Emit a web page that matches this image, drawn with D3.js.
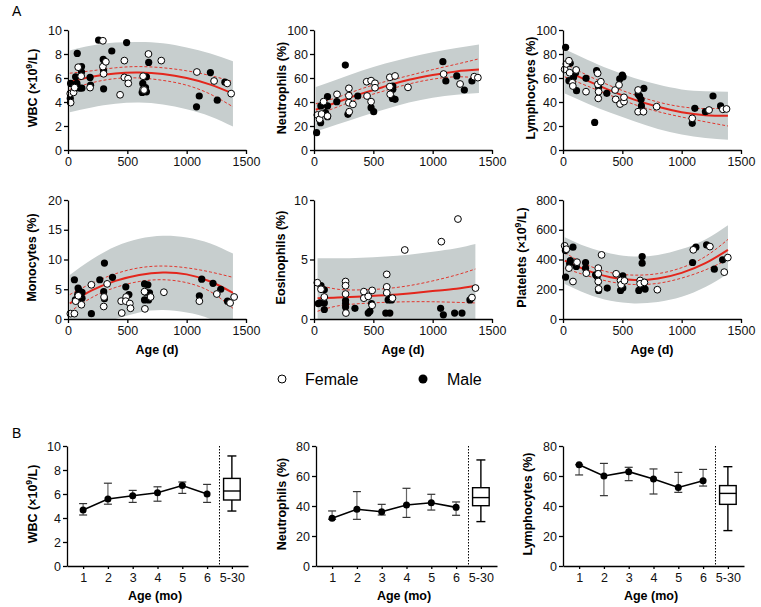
<!DOCTYPE html>
<html><head><meta charset="utf-8">
<script src="https://cdn.jsdelivr.net/npm/d3@7"></script>
<style>body{margin:0;background:#fff} svg{font-family:"Liberation Sans",Arial,sans-serif}</style>
</head><body><svg id="c" width="761" height="607"></svg>
<script>
// ---------- DATA ----------
const fitDays = [15, 200, 400, 600, 800, 1000, 1200, 1390];
const eosDays = [30, 200, 400, 600, 800, 1000, 1200, 1360];
const dayTicks = [0, 500, 1000, 1500];

const wbcFit  = [5.7, 6.1, 6.38, 6.45, 6.33, 6.0, 5.45, 4.7];
const wbcCiHi = [6.4, 6.6, 6.85, 6.95, 6.85, 6.6, 6.2, 5.7];
const wbcCiLo = [5.05, 5.6, 5.95, 6.0, 5.8, 5.4, 4.65, 3.6];
const wbcPiHi = [8.3, 8.7, 8.95, 9.0, 8.9, 8.55, 8.05, 7.4];
const wbcPiLo = [3.15, 3.55, 3.85, 3.95, 3.8, 3.4, 2.8, 1.95];
const wbcFemale = [[19,4.7],[22,3.95],[47,4.8],[56,5.2],[86,6.9],[111,6.15],[186,5.2],[294,9.1],[294,6.95],[300,6.35],[319,7.35],[439,4.6],[475,7.45],[475,6.05],[506,5.95],[508,5.55],[633,6.15],[633,5.05],[641,5.0],[678,8.0],[786,7.45],[1086,6.5],[1231,5.75],[1342,5.55],[1375,4.7]];
const wbcMale = [[19,4.3],[22,5.55],[64,6.1],[75,5.55],[78,8.05],[97,5.15],[117,5.15],[114,6.95],[114,6.5],[186,6.05],[190,5.4],[258,9.15],[297,7.55],[300,6.6],[300,5.1],[369,8.25],[494,8.95],[625,4.8],[630,5.55],[653,5.2],[661,4.85],[661,6.1],[680,7.3],[1083,3.6],[1106,4.5],[1200,6.45],[1258,4.15],[1322,5.65]];

const neuFit  = [33.5, 40, 47, 53, 58.5, 62.5, 65.5, 67];
const neuCiHi = [38.5, 44, 51, 57, 62, 67, 71.5, 76];
const neuCiLo = [29, 36, 43.5, 49.5, 55, 59, 61, 60];
const neuPiHi = [52.5, 59, 66, 72, 77, 81.5, 85, 88];
const neuPiLo = [15.5, 21.5, 28, 34, 39.5, 43.5, 46, 47.5];
const neuFemale = [[28,29.2],[47,25.6],[64,30],[81,40.3],[114,28.3],[194,46.4],[294,51.4],[294,39.4],[294,45.3],[297,31.9],[328,38],[444,56.9],[447,45],[481,57.8],[481,40.3],[514,55.6],[514,51.9],[639,60.6],[639,52.8],[642,46.4],[683,61.7],[792,52.2],[1092,63.3],[1231,55],[1350,61.1],[1381,60.3]];
const neuMale = [[22,14.4],[56,22.8],[58,36.7],[97,31.1],[114,36.7],[114,44.4],[114,27.8],[192,40.3],[264,70.8],[286,29.7],[369,45],[481,35.3],[503,31.9],[661,43],[683,42.2],[664,50.6],[664,53.3],[1086,73.6],[1111,57.5],[1203,61.7],[1267,50],[1331,57.5]];

const lymFit  = [66.5, 58, 49.5, 42, 36, 31.5, 29, 28.5];
const lymCiHi = [72, 62.5, 53.5, 46, 40, 36, 34.5, 35];
const lymCiLo = [61, 53.5, 45.5, 38, 32, 27.5, 23.5, 20];
const lymPiHi = [84, 75.5, 67, 60, 54.5, 50.5, 49, 48.5];
const lymPiLo = [47, 39, 31, 24, 17.5, 13, 10, 8.5];
const lymFemale = [[14,67.2],[28,71.7],[50,74.4],[56,64.4],[78,56.1],[83,53.3],[111,66.7],[194,48.6],[292,63.9],[294,54.7],[297,43],[300,48.6],[319,56.9],[439,50],[472,54.2],[444,42.2],[481,38.3],[514,40.3],[514,43.9],[633,50],[633,31.9],[678,31.9],[789,36.1],[1089,26.4],[1231,33.3],[1347,33.9],[1378,34.2]];
const lymMale = [[22,85.6],[61,72.2],[50,57.8],[89,60.6],[106,64.4],[114,49.4],[194,59.7],[267,23],[283,66.1],[300,52.2],[369,47.2],[478,59.2],[500,62.5],[506,61],[633,46.4],[645,45],[658,42],[661,36.7],[681,51.4],[1089,22.2],[1111,34.7],[1200,31.9],[1264,45],[1328,36.7]];

const monFit  = [2.6, 4.8, 6.4, 7.4, 7.8, 7.5, 6.3, 4.4];
const monCiHi = [4.1, 6.0, 7.6, 8.6, 8.9, 8.6, 7.9, 7.0];
const monCiLo = [1.2, 3.6, 5.3, 6.3, 6.6, 6.1, 4.6, 1.8];
const monPiHi = [7.4, 10.0, 12.2, 13.5, 14.0, 13.7, 12.7, 11.0];
const monPiLo = [-3.3, -1.3, 0.0, 1.1, 1.5, 1.1, 0.0, -2.5];
const monFemale = [[20,0.9],[54,0.9],[65,3.0],[87,3.9],[113,2.4],[197,5.75],[304,3.7],[301,2.1],[330,5.9],[448,3.0],[453,1.0],[490,3.7],[487,3.0],[521,2.6],[527,1.8],[645,4.6],[648,1.7],[696,3.7],[808,4.5],[1107,3.0],[1254,4.2],[1366,2.7],[1400,3.7]];
const monMale = [[54,6.6],[85,5.2],[93,4.8],[82,4.1],[118,4.5],[118,3.5],[62,3.2],[197,0.9],[268,6.6],[301,4.6],[307,9.4],[307,3.4],[375,7.0],[487,5.4],[513,4.1],[645,5.9],[673,5.75],[656,4.5],[687,4.4],[645,3.2],[679,3.2],[1107,3.9],[1127,6.7],[1222,6.0],[1287,5.0],[1344,3.0]];

const eosFit  = [1.75, 1.8, 1.9, 2.0, 2.15, 2.35, 2.55, 2.8];
const eosCiHi = [2.9, 2.5, 2.45, 2.55, 2.8, 3.2, 3.7, 4.2];
const eosCiLo = [0.65, 1.1, 1.3, 1.4, 1.45, 1.45, 1.4, 1.35];
const eosPiHi = [5.1, 5.1, 5.15, 5.25, 5.4, 5.65, 5.95, 6.3];
const eosPiLo = [-1.6, -1.5, -1.4, -1.3, -1.2, -1.0, -0.9, -0.7];
const eosFemale = [[28,3.05],[59,2.5],[87,1.85],[266,3.15],[266,2.8],[266,2.1],[269,0.5],[420,2.3],[420,1.75],[457,1.9],[490,2.4],[490,1.15],[613,3.75],[613,2.7],[613,2.2],[661,1.75],[765,5.8],[1073,6.5],[1213,8.4],[1331,1.8],[1361,2.6]];
const eosMale = [[36,1.3],[59,2.8],[50,1.35],[87,2.45],[87,1.35],[87,0.8],[266,1.55],[266,1.3],[266,1.0],[345,0.9],[457,0.5],[471,0.65],[485,1.3],[605,0.5],[639,0.5],[625,1.6],[639,1.75],[653,1.6],[1067,0.9],[1090,0.35],[1185,0.5],[1247,0.5],[1314,1.6]];

const pltFit  = [392, 327, 280, 262, 272, 310, 375, 465];
const pltCiHi = [445, 365, 312, 295, 305, 345, 420, 535];
const pltCiLo = [340, 292, 250, 232, 240, 275, 330, 400];
const pltPiHi = [550, 485, 440, 420, 430, 470, 535, 630];
const pltPiLo = [235, 170, 122, 105, 115, 150, 215, 305];
const pltFemale = [[14,492],[28,469],[50,342],[84,252],[118,382],[196,308],[297,342],[297,252],[300,203],[297,304],[325,431],[448,304],[485,259],[490,230],[518,257],[650,259],[650,237],[686,246],[795,197],[1098,465],[1238,487],[1359,315],[1389,413]];
const pltMale = [[20,460],[22,282],[84,483],[62,393],[56,371],[112,353],[190,380],[190,342],[275,297],[288,286],[300,192],[373,208],[485,192],[504,290],[504,208],[639,192],[667,420],[667,375],[678,219],[692,201],[1092,380],[1120,483],[1210,498],[1275,335],[1345,398]];

// Panel B
const monthLabels = ["1", "2", "3", "4", "5", "6", "5-30"];
const wbcMonthMean = [4.67, 5.58, 5.86, 6.1, 6.7, 6.0];
const wbcMonthLo   = [4.25, 5.15, 5.3, 5.4, 6.05, 5.3];
const wbcMonthHi   = [5.2, 6.9, 6.3, 6.6, 7.0, 6.8];
const wbcBox = [4.58, 5.5, 6.25, 7.3, 9.17];
const neuMonthMean = [31.8, 37.8, 36.2, 40.7, 42.2, 39.1];
const neuMonthLo   = [31.1, 31.1, 34, 32.4, 37.3, 33.8];
const neuMonthHi   = [36.7, 49.6, 41.1, 51.8, 47.8, 42.7];
const neuBox = [29.6, 40.2, 45.6, 52.2, 70.7];
const lymMonthMean = [67.5, 60, 62.9, 58, 52.4, 56.9];
const lymMonthLo   = [60.7, 46.9, 56.9, 48, 49.1, 53.3];
const lymMonthHi   = [67.5, 68.4, 65.8, 64.7, 62.4, 64.4];
const lymBox = [23.6, 41.1, 48.4, 53.6, 66.2];

// ---------- DRAW ----------
const svg = d3.select("#c");
const RED = "#e3261c", GREY = "#c7cece";
const FONT = '"Liberation Sans",Arial,sans-serif';
const colX = [68, 314, 563];
const W = 178;

function yTitle(cx, cy, parts) {
  const t = svg.append("text")
    .attr("x", 0).attr("y", 0)
    .attr("text-anchor", "start").attr("font-weight", "bold").attr("font-size", 12.5)
    .attr("font-family", FONT);
  parts.forEach(p => {
    const s = t.append("tspan").text(p.t);
    if (p.sup) s.attr("font-size", 8.5).attr("dy", -5);
    if (p.after) s.attr("dy", 5);
  });
  const bb = t.node().getBBox();
  const mx = bb.x + bb.width / 2, my = bb.y + bb.height / 2 + 1;
  t.attr("transform", `translate(${cx},${cy}) rotate(-90) translate(${-mx},${-my})`);
}

function styleAxis(a) {
  a.attr("font-family", FONT).attr("font-size", 12.5);
  a.select(".domain").attr("stroke", "#000").attr("stroke-width", 1.3);
  a.selectAll(".tick line").attr("stroke", "#000").attr("stroke-width", 1.3);
  a.selectAll(".tick text").attr("fill", "#111");
}

let clipId = 0;
function scatterPanel(c) {
  const x = d3.scaleLinear([0, 1500], [c.x0, c.x0 + W]);
  const y = d3.scaleLinear([0, c.ymax], [c.bottom, c.top]);
  const g = svg.append("g");
  const id = "clip" + (clipId++);
  svg.append("clipPath").attr("id", id).append("rect")
    .attr("x", c.x0).attr("y", c.top - 20).attr("width", W + 10).attr("height", c.bottom - c.top + 20);
  const rows = c.days.map((d, i) => ({ d, fit: c.fit[i], cl: c.ciLo[i], ch: c.ciHi[i], pl: c.piLo[i], ph: c.piHi[i] }));
  const curve = d3.curveNatural;
  g.append("path").datum(rows).attr("clip-path", `url(#${id})`)
    .attr("d", d3.area().x(r => x(r.d)).y0(r => y(r.pl)).y1(r => y(r.ph)).curve(curve))
    .attr("fill", GREY);
  ["cl", "ch"].forEach(k => {
    g.append("path").datum(rows)
      .attr("d", d3.line().x(r => x(r.d)).y(r => y(r[k])).curve(curve))
      .attr("fill", "none").attr("stroke", RED).attr("stroke-width", 0.9).attr("stroke-dasharray", "3,2");
  });
  g.append("path").datum(rows)
    .attr("d", d3.line().x(r => x(r.d)).y(r => y(r.fit)).curve(curve))
    .attr("fill", "none").attr("stroke", RED).attr("stroke-width", 2);
  g.selectAll(".m").data(c.male).join("circle")
    .attr("cx", p => x(p[0])).attr("cy", p => y(p[1])).attr("r", 3.6).attr("fill", "#000");
  g.selectAll(".f").data(c.female).join("circle")
    .attr("cx", p => x(p[0])).attr("cy", p => y(p[1])).attr("r", 3.4)
    .attr("fill", "#fff").attr("stroke", "#000").attr("stroke-width", 1);
  const ax = g.append("g").attr("transform", `translate(0,${c.bottom})`)
    .call(d3.axisBottom(x).tickValues(dayTicks).tickFormat(d3.format("d")).tickSize(4).tickSizeOuter(0).tickPadding(3));
  styleAxis(ax);
  const ay = g.append("g").attr("transform", `translate(${c.x0},0)`)
    .call(d3.axisLeft(y).tickValues(c.yticks).tickFormat(d3.format("d")).tickSize(4).tickSizeOuter(0).tickPadding(2));
  styleAxis(ay);
  yTitle(c.x0 - c.tOff, (c.top + c.bottom) / 2 - 2, c.title);
  if (c.xTitle) {
    svg.append("text").attr("x", c.x0 + W / 2).attr("y", c.bottom + 35).attr("font-family", FONT)
      .attr("text-anchor", "middle").attr("font-weight", "bold").attr("font-size", 12.5).text("Age (d)");
  }
}

const sup9 = (pre, post) => [{ t: pre }, { t: "9", sup: true }, { t: post, after: true }];

scatterPanel({ x0: colX[0], top: 30, bottom: 150, ymax: 10, yticks: [0,2,4,6,8,10], days: fitDays,
  fit: wbcFit, ciLo: wbcCiLo, ciHi: wbcCiHi, piLo: wbcPiLo, piHi: wbcPiHi, female: wbcFemale, male: wbcMale,
  title: sup9("WBC (×10", "/L)"), tOff: 35 });
scatterPanel({ x0: colX[1], top: 30, bottom: 150, ymax: 100, yticks: [0,20,40,60,80,100], days: fitDays,
  fit: neuFit, ciLo: neuCiLo, ciHi: neuCiHi, piLo: neuPiLo, piHi: neuPiHi, female: neuFemale, male: neuMale,
  title: [{ t: "Neutrophils (%)" }], tOff: 31 });
scatterPanel({ x0: colX[2], top: 30, bottom: 150, ymax: 100, yticks: [0,20,40,60,80,100], days: fitDays,
  fit: lymFit, ciLo: lymCiLo, ciHi: lymCiHi, piLo: lymPiLo, piHi: lymPiHi, female: lymFemale, male: lymMale,
  title: [{ t: "Lymphocytes (%)" }], tOff: 31 });
scatterPanel({ x0: colX[0], top: 200, bottom: 319, ymax: 20, yticks: [0,5,10,15,20], days: fitDays,
  fit: monFit, ciLo: monCiLo, ciHi: monCiHi, piLo: monPiLo, piHi: monPiHi, female: monFemale, male: monMale,
  title: [{ t: "Monocytes (%)" }], tOff: 35, xTitle: true });
scatterPanel({ x0: colX[1], top: 200, bottom: 319, ymax: 10, yticks: [0,5,10], days: eosDays,
  fit: eosFit, ciLo: eosCiLo, ciHi: eosCiHi, piLo: eosPiLo, piHi: eosPiHi, female: eosFemale, male: eosMale,
  title: [{ t: "Eosinophils (%)" }], tOff: 32, xTitle: true });
scatterPanel({ x0: colX[2], top: 200, bottom: 319, ymax: 800, yticks: [0,200,400,600,800], days: fitDays,
  fit: pltFit, ciLo: pltCiLo, ciHi: pltCiHi, piLo: pltPiLo, piHi: pltPiHi, female: pltFemale, male: pltMale,
  title: sup9("Platelets (×10", "/L)"), tOff: 41, xTitle: true });

// Legend
const lg = svg.append("g").attr("font-family", FONT);
lg.append("circle").attr("cx", 282).attr("cy", 379).attr("r", 4).attr("fill", "#fff").attr("stroke", "#000").attr("stroke-width", 1);
lg.append("text").attr("x", 305).attr("y", 385).attr("font-size", 16).text("Female");
lg.append("circle").attr("cx", 423).attr("cy", 379).attr("r", 4.5).attr("fill", "#000");
lg.append("text").attr("x", 447).attr("y", 385).attr("font-size", 16).text("Male");

// Panel letters
svg.append("text").attr("x", 12).attr("y", 16).attr("font-size", 14).attr("font-family", FONT).text("A");
svg.append("text").attr("x", 12).attr("y", 438).attr("font-size", 14).attr("font-family", FONT).text("B");

// Panel B
function monthPanel(c) {
  const x = d3.scaleLinear([0.35, 7.65], [c.x0, c.x0 + 181]);
  const y = d3.scaleLinear([0, c.ymax], [566, 446]);
  const g = svg.append("g");
  const idx = c.mean.map((m, i) => i + 1);
  g.append("line").attr("x1", x(6.5)).attr("x2", x(6.5)).attr("y1", 446).attr("y2", 566)
    .attr("stroke", "#000").attr("stroke-width", 1).attr("stroke-dasharray", "1.5,1.5");
  idx.forEach((k, i) => {
    g.append("line").attr("x1", x(k)).attr("x2", x(k)).attr("y1", y(c.lo[i])).attr("y2", y(c.hi[i]))
      .attr("stroke", "#666").attr("stroke-width", 1.2);
    [c.lo[i], c.hi[i]].forEach(v => g.append("line").attr("x1", x(k) - 4).attr("x2", x(k) + 4)
      .attr("y1", y(v)).attr("y2", y(v)).attr("stroke", "#333").attr("stroke-width", 1.2));
  });
  g.append("path").datum(idx)
    .attr("d", d3.line().x(k => x(k)).y((k, i) => y(c.mean[i])))
    .attr("fill", "none").attr("stroke", "#000").attr("stroke-width", 1.6);
  g.selectAll(".p").data(idx).join("circle").attr("cx", k => x(k)).attr("cy", (k, i) => y(c.mean[i]))
    .attr("r", 3.5).attr("fill", "#000");
  const bx = x(7), b = c.box;
  g.append("line").attr("x1", bx).attr("x2", bx).attr("y1", y(b[0])).attr("y2", y(b[4])).attr("stroke", "#000").attr("stroke-width", 1.4);
  [b[0], b[4]].forEach(v => g.append("line").attr("x1", bx - 4.5).attr("x2", bx + 4.5).attr("y1", y(v)).attr("y2", y(v)).attr("stroke", "#000").attr("stroke-width", 1.4));
  g.append("rect").attr("x", bx - 8.3).attr("width", 16.6).attr("y", y(b[3])).attr("height", y(b[1]) - y(b[3]))
    .attr("fill", "#fff").attr("stroke", "#000").attr("stroke-width", 1.4);
  g.append("line").attr("x1", bx - 8.3).attr("x2", bx + 8.3).attr("y1", y(b[2])).attr("y2", y(b[2])).attr("stroke", "#000").attr("stroke-width", 1.4);
  const ax = g.append("g").attr("transform", "translate(0,566)")
    .call(d3.axisBottom(x).tickValues([1,2,3,4,5,6,7]).tickFormat((d, i) => monthLabels[i]).tickSize(3).tickSizeOuter(0).tickPadding(4));
  styleAxis(ax);
  const ay = g.append("g").attr("transform", `translate(${c.x0},0)`)
    .call(d3.axisLeft(y).tickValues(c.yticks).tickSize(4).tickSizeOuter(0).tickPadding(2));
  styleAxis(ay);
  yTitle(c.x0 - c.tOff, 504, c.title);
  svg.append("text").attr("x", c.x0 + 88).attr("y", 600).attr("text-anchor", "middle").attr("font-family", FONT)
    .attr("font-weight", "bold").attr("font-size", 12.5).text("Age (mo)");
}
monthPanel({ x0: 67, ymax: 10, yticks: [0,2,4,6,8,10], mean: wbcMonthMean, lo: wbcMonthLo, hi: wbcMonthHi, box: wbcBox,
  title: sup9("WBC (×10", "/L)"), tOff: 34 });
monthPanel({ x0: 316, ymax: 80, yticks: [0,20,40,60,80], mean: neuMonthMean, lo: neuMonthLo, hi: neuMonthHi, box: neuBox,
  title: [{ t: "Neutrophils (%)" }], tOff: 33 });
monthPanel({ x0: 563, ymax: 80, yticks: [0,20,40,60,80], mean: lymMonthMean, lo: lymMonthLo, hi: lymMonthHi, box: lymBox,
  title: [{ t: "Lymphocytes (%)" }], tOff: 34 });
</script></body></html>
